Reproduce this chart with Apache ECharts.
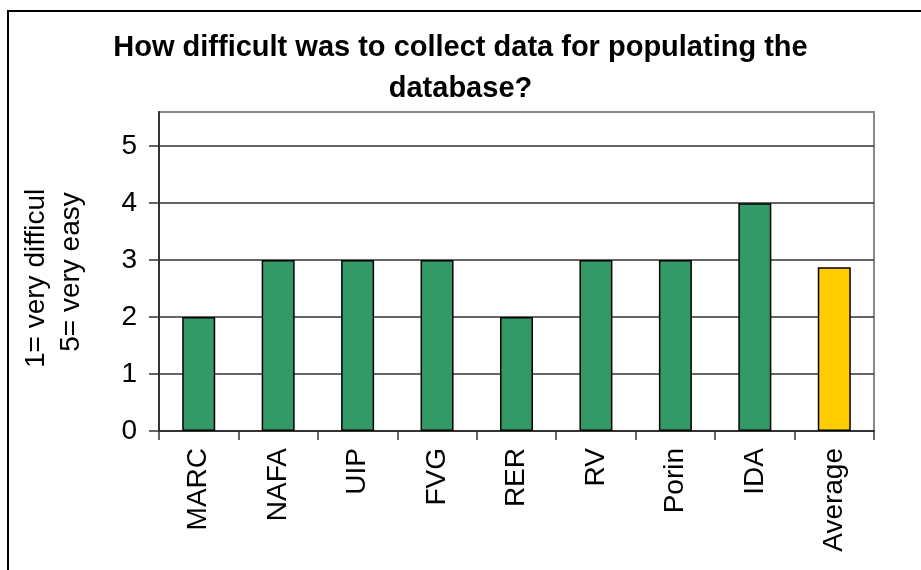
<!DOCTYPE html>
<html>
<head>
<meta charset="utf-8">
<script src="https://cdn.jsdelivr.net/npm/echarts@6/dist/echarts.min.js"></script>
<style>
html,body{margin:0;padding:0;background:#fff;}
#chart{width:921px;height:570px;}
</style>
</head>
<body>
<div id="chart"></div>
<script>
var titleText = 'How difficult was to collect data for populating the\ndatabase?';
var categories = ['MARC', 'NAFA', 'UIP', 'FVG', 'RER', 'RV', 'Porin', 'IDA', 'Average'];
var values = [2, 3, 3, 3, 2, 3, 3, 4, 2.875];
var barColors = ['#339966', '#339966', '#339966', '#339966', '#339966', '#339966', '#339966', '#339966', '#FFCC00'];
var yTicks = [0, 1, 2, 3, 4, 5];
var axisNameLines = ['1= very difficult', '5= very easy'];

var FONT = '"Liberation Sans", Arial, sans-serif';
var chart = echarts.init(document.getElementById('chart'));

var option = {
  backgroundColor: '#fff',
  animation: false,
  title: {
    text: titleText,
    left: 'center',
    top: 22,
    textStyle: { fontFamily: FONT, fontSize: 29, fontWeight: 'bold', color: '#000', lineHeight: 41 }
  },
  grid: {
    left: 159, right: 47, top: 112, bottom: 139,
    show: true, borderColor: '#888', borderWidth: 2, backgroundColor: '#fff'
  },
  xAxis: {
    type: 'category',
    data: categories,
    boundaryGap: true,
    axisLine: { show: true, lineStyle: { color: '#333', width: 2 } },
    axisTick: { show: true, length: 9, lineStyle: { color: '#333', width: 1.5 } },
    axisLabel: { rotate: 90, margin: 17, fontFamily: FONT, fontSize: 28, color: '#000', interval: 0 },
    splitLine: { show: false }
  },
  yAxis: {
    type: 'value',
    min: 0, max: 5.6,
    axisLine: { show: true, lineStyle: { color: '#333', width: 2 } },
    axisTick: { show: true, length: 10, customValues: yTicks, lineStyle: { color: '#333', width: 1.5 } },
    axisLabel: {
      margin: 22, fontFamily: FONT, fontSize: 28, color: '#000', customValues: yTicks
    },
    splitLine: { show: true, lineStyle: { color: '#333', width: 1.5 } }
  },
  series: [{
    type: 'bar',
    barWidth: 33,
    data: values.map(function (v, i) {
      return { value: v, itemStyle: { color: barColors[i], borderColor: '#000', borderWidth: 1.5 } };
    })
  }],
  graphic: [
    {
      type: 'rect', silent: true, z: 100,
      shape: { x: 8, y: 11, width: 1200, height: 1200 },
      style: { fill: 'none', stroke: '#000', lineWidth: 2 }
    },
    {
      type: 'text', z: 100, silent: true,
      x: 36, y: 368, rotation: Math.PI / 2,
      style: {
        text: axisNameLines[0], fontFamily: FONT, fontSize: 28, fill: '#000',
        align: 'left', verticalAlign: 'middle',
        width: 186, overflow: 'truncate', ellipsis: ''
      }
    },
    {
      type: 'text', z: 100, silent: true,
      x: 71, y: 272, rotation: Math.PI / 2,
      style: {
        text: axisNameLines[1], fontFamily: FONT, fontSize: 28, fill: '#000',
        align: 'center', verticalAlign: 'middle'
      }
    }
  ]
};
chart.setOption(option);
</script>
</body>
</html>
